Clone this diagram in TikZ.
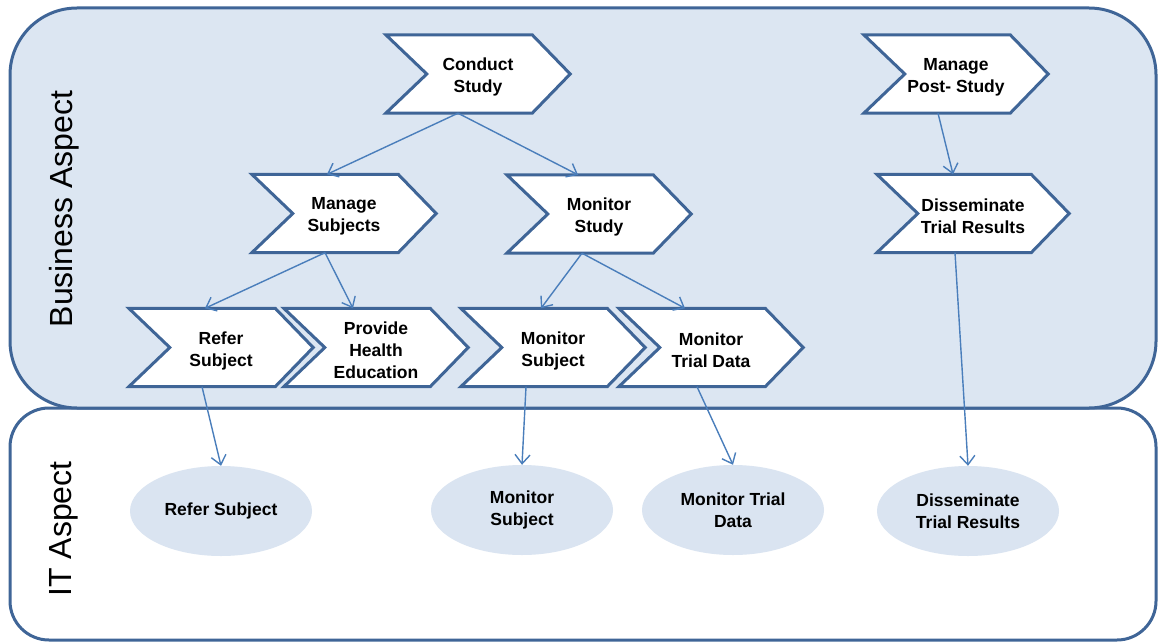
\documentclass[tikz,border=0pt]{standalone}
\usepackage{fontspec}
\setmainfont{Liberation Sans}
\usetikzlibrary{arrows.meta,calc,shapes.geometric}

\definecolor{boxfill}{HTML}{DCE6F2}
\definecolor{boxline}{HTML}{3F6597}
\definecolor{arrowblue}{HTML}{4A7EBB}
\definecolor{ellfill}{HTML}{DAE4F1}

\pgfdeclarelayer{back}
\pgfdeclarelayer{mid}
\pgfsetlayers{back,mid,main}

\newcommand\chevfont{\fontsize{17.5}{22}\selectfont\bfseries}

\tikzset{
  container/.style={rectangle, draw=boxline, line width=3pt, inner sep=0pt},
  chevnode/.style={rectangle, minimum width=184pt, minimum height=78pt,
    inner sep=0pt},
  chevtext/.style={inner sep=0pt, align=center, font=\chevfont},
  chevshape/.style={draw=boxline, line width=3pt, fill=white, line join=miter},
  itnode/.style={ellipse, fill=ellfill, minimum width=182pt, minimum height=90pt,
    inner sep=0pt, align=center, font=\chevfont},
  link/.style={draw=arrowblue, line width=1.4pt,
    -{Straight Barb[length=9pt,width=15pt,line width=1.4pt]}},
  aspect/.style={rotate=90, font=\fontsize{32}{38}\selectfont},
}

% chevron: optional node options, name, x, y, text
\newcommand\chevbox[5][]{%
  \node[chevnode,#1] (#2) at (#3,#4) {};
  \node[chevtext] (#2-text) at ([yshift=-3pt]#2.center) {#5};
  \begin{pgfonlayer}{mid}
    \draw[chevshape] (#2.north west) -- ([xshift=-38pt]#2.north east)
      -- (#2.east) -- ([xshift=-38pt]#2.south east) -- (#2.south west)
      -- ([xshift=41pt]#2.west) -- cycle;
  \end{pgfonlayer}
}

\begin{document}
\begin{tikzpicture}[x=1pt,y=-1pt]
\useasboundingbox (0,0) rectangle (1158,642);

% the two aspect panels
\begin{pgfonlayer}{back}
  \node[container, fill=white, rounded corners=39pt,
        minimum width=1146pt, minimum height=232pt] (itpanel) at (583,524) {};
  \node[container, fill=boxfill, rounded corners=67pt,
        minimum width=1146pt, minimum height=400pt] (bizpanel) at (583,208) {};
\end{pgfonlayer}

\node[aspect] (bizlabel) at (64,209) {Business Aspect};
\node[aspect] (itlabel) at (64,529) {IT Aspect};

% business processes
\chevbox{cs}{478}{74}{Conduct\\Study}
\chevbox{ms}{344}{213.5}{Manage\\Subjects}
\chevbox{mst}{599}{214}{Monitor\\Study}
\chevbox{mps}{956}{74}{Manage\\Post- Study}
\chevbox[minimum width=192pt]{dtr}{973}{213.5}{Disseminate\\Trial Results}
\chevbox{rsc}{221}{347.5}{Refer\\Subject}
\chevbox{phe}{376}{347.5}{Provide\\Health\\Education}
\chevbox{msc}{553}{347.5}{Monitor\\Subject}
\chevbox{mtd}{711}{347.5}{Monitor\\Trial Data}

% IT services
\node[itnode] (rse) at (221,511) {Refer Subject};
\node[itnode] (mse) at (522,510) {Monitor\\Subject};
\node[itnode] (mtde) at (733,510) {Monitor Trial\\Data};
\node[itnode] (dtre) at (968,511) {Disseminate\\Trial Results};

% decomposition links
\draw[link] ($(cs.south)+(-20,0)$) -- ($(ms.north)+(-17,0)$);
\draw[link] ($(cs.south)+(-20,0)$) -- ($(mst.north)+(-21,0)$);
\draw[link] ($(ms.south)+(-19,0)$) -- ($(rsc.north)+(-16,0)$);
\draw[link] ($(ms.south)+(-19,0)$) -- ($(phe.north)+(-23,0)$);
\draw[link] ($(mst.south)+(-17,0)$) -- ($(msc.north)+(-12,0)$);
\draw[link] ($(mst.south)+(-17,0)$) -- ($(mtd.north)+(-26,0)$);
\draw[link] ($(mps.south)+(-18,0)$) -- ($(dtr.north)+(-20,0)$);

% links to IT services
\draw[link] ($(rsc.south)+(-19,0)$) -- (rse.north);
\draw[link] ($(msc.south)+(-27,0)$) -- (mse.north);
\draw[link] ($(mtd.south)+(-14,0)$) -- (mtde.north);
\draw[link] ($(dtr.south)+(-18,0)$) -- (dtre.north);
\end{tikzpicture}
\end{document}
